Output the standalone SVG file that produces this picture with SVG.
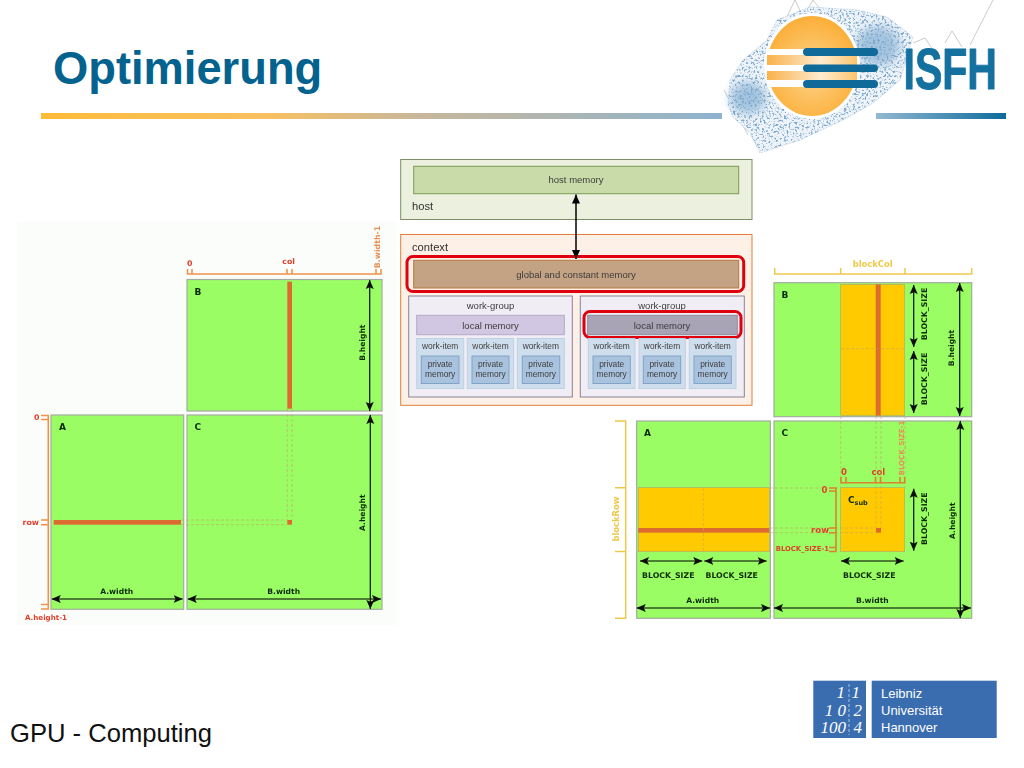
<svg xmlns="http://www.w3.org/2000/svg" width="1024" height="768" viewBox="0 0 1024 768">
<style>
text{font-family:"Liberation Sans",Arial,sans-serif}
.m{font-family:"DejaVu Sans",sans-serif;font-size:7.6px;font-weight:700;fill:#0f2a08}
.l{font-family:"DejaVu Sans",sans-serif;font-size:9px;font-weight:700;fill:#0f2a08}
.mid{text-anchor:middle}
.r{font-family:"DejaVu Sans",sans-serif;font-size:7.8px;font-weight:700;fill:#e0402c}
.o{font-family:"DejaVu Sans",sans-serif;font-size:7.8px;font-weight:700;fill:#e89058}
.y{font-family:"DejaVu Sans",sans-serif;font-size:8.4px;font-weight:700;fill:#eec94a}
.cell{fill:#99fd63;stroke:#a3aca0;stroke-width:1.2}
.gold{fill:#ffcb05;stroke:#a8a878;stroke-width:.6}
.bar{fill:#dd6b2d}
.arr{stroke:#0c0c0c;stroke-width:1.2;fill:none;marker-start:url(#ah);marker-end:url(#ah)}
.br{stroke:#f0924c;stroke-width:1.6;fill:none}
.bry{stroke:#eec94a;stroke-width:1.5;fill:none}
.dash{stroke:#c9a060;stroke-width:.7;fill:none;stroke-dasharray:3 2;opacity:.8}
.t{font-size:9.5px;fill:#3c3c3c;text-anchor:middle}
.ti{font-size:8.4px;fill:#3c3c3c;text-anchor:middle}
.wg{fill:#f1edf5;stroke:#8a8298;stroke-width:1}
.wi{fill:#cfdeed;stroke:#bdd0e4;stroke-width:1}
.pm{fill:#a9c3de;stroke:#82a2c8;stroke-width:1}
.hl{fill:none;stroke:#e0000f;stroke-width:3}
.lg{fill:#fff;font-size:13px}
.lb{fill:#fff;font-family:"Liberation Serif",serif;font-style:italic;font-size:17px;text-anchor:end}
.mt{stroke:#b4b4b4;stroke-width:.7;fill:none}
</style>
<defs>
<marker id="ah" viewBox="0 0 9 9" refX="9" refY="4.500" markerWidth="9" markerHeight="9" markerUnits="userSpaceOnUse" orient="auto-start-reverse"><path d="M0 0.5L9 4.500L0 8.500L1.800 4.500Z" fill="#0c0c0c"/></marker>
<marker id="ab" viewBox="0 0 9 9" refX="9" refY="4.500" markerWidth="9" markerHeight="9" markerUnits="userSpaceOnUse" orient="auto-start-reverse"><path d="M0 0.5L9 4.500L0 8.500Z" fill="#000"/></marker>
<linearGradient id="rule1"><stop offset="0" stop-color="#fdbb3a"/><stop offset=".33" stop-color="#f8c060"/><stop offset=".55" stop-color="#c9b79a"/><stop offset="1" stop-color="#8db3cf"/></linearGradient>
<linearGradient id="rule2"><stop offset="0" stop-color="#93b8d2"/><stop offset="1" stop-color="#0d6c9b"/></linearGradient>
<radialGradient id="sun" cx=".5" cy=".55" r=".6"><stop offset="0" stop-color="#fdd48c"/><stop offset="1" stop-color="#fbab30"/></radialGradient>
<linearGradient id="sunb"><stop offset="0" stop-color="#f9b24a"/><stop offset=".6" stop-color="#fdeccf"/><stop offset="1" stop-color="#fbc46c"/></linearGradient>
<filter id="sp" x="0" y="0" width="1" height="1"><feTurbulence type="fractalNoise" baseFrequency=".45" numOctaves="2" seed="4" result="n"/><feColorMatrix in="n" type="matrix" values="0 0 0 0 0 0 0 0 0 0 0 0 0 0 0 4 4 0 0 -4.100" result="a"/><feComposite in="SourceGraphic" in2="a" operator="in"/></filter>
<filter id="soft" x="-5%" y="-5%" width="110%" height="110%"><feGaussianBlur stdDeviation=".35"/></filter>
<filter id="bl" x="-30%" y="-30%" width="160%" height="160%"><feGaussianBlur stdDeviation="5"/></filter>
</defs>
<rect width="1024" height="768" fill="#fff"/>

<g id="header">
<text x="53" y="83.500" font-size="45.300" font-weight="700" fill="#04628f">Optimierung</text>
<rect x="41" y="113" width="681" height="6" fill="url(#rule1)"/>
<rect x="876" y="113" width="130" height="6" fill="url(#rule2)"/>
</g>

<g id="isfh-logo">
<path class="mt" d="M782 27L795 0L803 17L813 0L829 20M913 43L925 38L933 50M945 43L952 31L962 47M970 45L993 0M724 90L748 135"/>
<path d="M728 105L730 80L743 60L767 40L777 20L810 7L857 10L887 17L913 37L907 57L900 80L873 103L843 120L800 140L760 153L750 133L733 117Z" fill="#eef4f9" stroke="#b9cfe0" stroke-width=".7" stroke-dasharray="2 1"/>
<ellipse cx="748" cy="98" rx="18" ry="16" fill="#a5c4df" filter="url(#bl)"/>
<ellipse cx="878" cy="46" rx="22" ry="20" fill="#a5c4df" filter="url(#bl)"/>
<path d="M728 105L730 80L743 60L767 40L777 20L810 7L857 10L887 17L913 37L907 57L900 80L873 103L843 120L800 140L760 153L750 133L733 117Z" fill="#7fa9cc" filter="url(#sp)"/>
<ellipse cx="812" cy="66" rx="48" ry="53" fill="#fff"/>
<ellipse cx="812" cy="66" rx="45" ry="50" fill="url(#sun)"/>
<rect x="767" y="49" width="50" height="6" fill="#fff"/>
<rect x="767" y="55" width="90" height="10" fill="url(#sunb)"/>
<rect x="767" y="65" width="50" height="6" fill="#fff"/>
<rect x="767" y="71" width="90" height="9" fill="url(#sunb)"/>
<rect x="767" y="80" width="50" height="7" fill="#fff"/>
<rect x="803" y="48" width="75" height="8" rx="4" fill="#0f6a9a"/>
<rect x="803" y="64.500" width="75" height="7.500" rx="3.700" fill="#0f6a9a"/>
<rect x="803" y="80" width="75" height="8" rx="4" fill="#0f6a9a"/>
<text transform="translate(903.500 88.500) scale(.72 1)" font-size="57" font-weight="700" fill="#14719f" stroke="#14719f" stroke-width="1" stroke-linejoin="round">ISFH</text>
</g>

<g id="matrix-left" filter="url(#soft)">
<rect x="17" y="222" width="380" height="403" fill="#fbfdfb"/>
<g id="L-B"><rect class="cell" x="187" y="279.500" width="195" height="131.500"/><text class="l" x="194.500" y="294.500">B</text><rect class="bar" x="287.300" y="281.700" width="4.700" height="127"/></g>
<g id="L-A"><rect class="cell" x="51" y="415" width="132.700" height="194.300"/><text class="l" x="59" y="430">A</text><rect class="bar" x="53.700" y="520" width="127.300" height="4.700"/></g>
<g id="L-C"><rect class="cell" x="187" y="415" width="195" height="194.300"/><text class="l" x="194.500" y="430">C</text><rect class="bar" x="287.300" y="520" width="4.700" height="4.700"/></g>
<text class="m mid" x="116.700" y="594">A.width</text>
<text class="m mid" x="283.700" y="594">B.width</text>
<text class="m mid" transform="translate(364.500 342.700) rotate(-90)">B.height</text>
<text class="m mid" transform="translate(365 512.700) rotate(-90)">A.height</text>
<text class="r mid" x="189.700" y="266">0</text>
<text class="r mid" x="288.700" y="264">col</text>
<text class="o mid" transform="translate(379.700 247) rotate(-90)">B.width-1</text>
<text class="r" x="39.500" y="420" text-anchor="end">0</text>
<text class="r" x="39" y="524.700" text-anchor="end">row</text>
<text class="r" x="25" y="619.500" style="font-size:7.100px">A.height-1</text>
</g>

<g id="memory-model" filter="url(#soft)">
<g id="host"><rect x="400.700" y="159.500" width="351.300" height="60" fill="#ebf1de" stroke="#7d8f64" stroke-width="1"/><text x="412" y="210" font-size="11.200" fill="#303030">host</text></g>
<g id="host-memory"><rect x="413.700" y="166.300" width="325" height="27.400" fill="#c9dba8" stroke="#7d9a58" stroke-width="1"/><text class="t" x="576" y="183">host memory</text></g>
<g id="context"><rect x="400.700" y="234.500" width="351.300" height="170.800" fill="#fdf0e6" stroke="#e0803a" stroke-width="1"/><text x="412" y="251" font-size="11.200" fill="#303030">context</text></g>
<g id="global-memory"><rect x="413.700" y="260.300" width="325" height="27.700" fill="#c4a284" stroke="#b5793f" stroke-width="1"/><text class="t" x="576" y="277.500">global and constant memory</text><rect class="hl" x="407" y="256.500" width="336.700" height="35" rx="6"/></g>
<g id="work-group-1"><rect class="wg" x="408.700" y="296" width="163.600" height="101"/><text class="t" x="490.500" y="309">work-group</text></g>
<g id="local-memory-1"><rect x="416.700" y="315.300" width="147.600" height="19.400" fill="#d2c7e2" stroke="#b5a9ca" stroke-width="1"/><text class="t" x="490.500" y="328.500">local memory</text></g>
<g id="work-group-2"><rect class="wg" x="580.300" y="296" width="164" height="101"/><text class="t" x="662" y="309">work-group</text></g>
<g id="local-memory-2"><rect x="587.700" y="315.300" width="149.600" height="19.400" fill="#a9a3b6" stroke="#8f8a9c" stroke-width="1"/><text class="t" x="662" y="328.500">local memory</text><rect class="hl" x="584" y="311.500" width="157" height="26" rx="6"/></g>
<g id="wi1"><rect class="wi" x="416.700" y="338.500" width="47" height="50"/><text class="ti" x="440.200" y="349">work-item</text><rect class="pm" x="421.300" y="356" width="37.700" height="27.500"/><text class="ti" x="440.200" y="367">private</text><text class="ti" x="440.200" y="377">memory</text></g>
<g id="wi2"><rect class="wi" x="467.300" y="338.500" width="46.400" height="50"/><text class="ti" x="490.500" y="349">work-item</text><rect class="pm" x="472" y="356" width="37" height="27.500"/><text class="ti" x="490.500" y="367">private</text><text class="ti" x="490.500" y="377">memory</text></g>
<g id="wi3"><rect class="wi" x="517.300" y="338.500" width="47" height="50"/><text class="ti" x="540.800" y="349">work-item</text><rect class="pm" x="522.300" y="356" width="37.400" height="27.500"/><text class="ti" x="540.800" y="367">private</text><text class="ti" x="540.800" y="377">memory</text></g>
<g id="wi4"><rect class="wi" x="588.300" y="338.500" width="46.700" height="50"/><text class="ti" x="611.700" y="349">work-item</text><rect class="pm" x="593" y="356" width="37.300" height="27.500"/><text class="ti" x="611.700" y="367">private</text><text class="ti" x="611.700" y="377">memory</text></g>
<g id="wi5"><rect class="wi" x="639" y="338.500" width="46.300" height="50"/><text class="ti" x="662" y="349">work-item</text><rect class="pm" x="643.300" y="356" width="37.400" height="27.500"/><text class="ti" x="662" y="367">private</text><text class="ti" x="662" y="377">memory</text></g>
<g id="wi6"><rect class="wi" x="689.300" y="338.500" width="46.700" height="50"/><text class="ti" x="712.700" y="349">work-item</text><rect class="pm" x="694" y="356" width="37.300" height="27.500"/><text class="ti" x="712.700" y="367">private</text><text class="ti" x="712.700" y="377">memory</text></g>
</g>

<g id="matrix-right" filter="url(#soft)">
<g id="R-B"><rect class="cell" x="774" y="282.700" width="197.700" height="134"/><text class="l" x="781.500" y="298">B</text><rect class="gold" x="840.700" y="284.300" width="64" height="131.400"/><rect class="bar" x="875.700" y="284.300" width="5" height="131.400"/></g>
<g id="R-A"><rect class="cell" x="636.700" y="421" width="133.600" height="197.300"/><text class="l" x="644" y="435.700">A</text><rect class="gold" x="638.300" y="487.700" width="131" height="64"/><rect class="bar" x="638.300" y="528" width="131" height="4.700"/></g>
<g id="R-C"><rect class="cell" x="774" y="421" width="197.700" height="197.300"/><text class="l" x="781.500" y="435.700">C</text><rect class="gold" x="840.700" y="487.700" width="64" height="64"/><rect class="bar" x="876" y="528" width="5" height="4.700"/><text class="l" x="848" y="503">C<tspan dy="2" style="font-size:6.500px">sub</tspan></text></g>
<text class="y mid" x="872.700" y="267">blockCol</text>
<text class="y mid" transform="translate(619 519) rotate(-90)">blockRow</text>
<text class="m mid" transform="translate(927 314) rotate(-90)" style="font-size:7.800px">BLOCK_SIZE</text>
<text class="m mid" transform="translate(927 379) rotate(-90)" style="font-size:7.800px">BLOCK_SIZE</text>
<text class="m mid" transform="translate(926.700 518.700) rotate(-90)" style="font-size:7.800px">BLOCK_SIZE</text>
<text class="m mid" transform="translate(954 348) rotate(-90)">B.height</text>
<text class="m mid" transform="translate(955 520.700) rotate(-90)">A.height</text>
<text class="m mid" x="702.700" y="603">A.width</text>
<text class="m mid" x="872.300" y="603">B.width</text>
<text class="m mid" x="668.300" y="577.500" style="font-size:7.800px">BLOCK_SIZE</text>
<text class="m mid" x="731.700" y="577.500" style="font-size:7.800px">BLOCK_SIZE</text>
<text class="m mid" x="869.300" y="577.500" style="font-size:7.800px">BLOCK_SIZE</text>
<text class="r mid" x="844" y="474.700" style="font-size:8.500px">0</text>
<text class="r mid" x="878.300" y="474.700" style="font-size:8.500px">col</text>
<text class="o mid" style="font-size:7px" transform="translate(904 448) rotate(-90)">BLOCK_SIZE-1</text>
<text class="r" x="827.500" y="492.700" text-anchor="end" style="font-size:8.500px">0</text>
<text class="r" x="829" y="533.300" text-anchor="end" style="font-size:8.500px">row</text>
<text class="r" x="829" y="551" text-anchor="end" style="font-size:6.800px">BLOCK_SIZE-1</text>
</g>

<g id="connectors" filter="url(#soft)">
<path d="M576 194.500V259" stroke="#000" stroke-width="1.500" fill="none" marker-start="url(#ab)" marker-end="url(#ab)"/>
<path class="dash" d="M287.300 409V520M292 409V520M181 520H287M181 524.700H287"/>
<path class="br" d="M187.500 269V274H381V269M192 269V274M287 269V274M292 269V274M376 269V274"/>
<path class="br" d="M41 415.500H48.300V609H41M41 419.500H48.300M41 520H48.300M41 524.700H48.300M41 604.500H48.300"/>
<path class="arr" d="M51.700 599H182.700"/>
<path class="arr" d="M187.700 599H381"/>
<path class="arr" d="M369.700 280V411"/>
<path class="arr" d="M370.300 415V609"/>
<path class="bry" d="M774.700 268V274H971.700V268M840.700 268V274M905 268V274"/>
<path class="bry" d="M615 421H625.700V618.300H615M615 487.700H625.700M615 551.500H625.700"/>
<path class="dash" d="M840.700 416V487M905 416V487M876 416V528M881 416V528M770 488H840M770 528H876M770 532.700H876M703.300 488V551.500M841 348.700H905"/>
<path class="br" style="stroke:#e08030" d="M841 477V482.700H904.700V477M846 477V482.700M875.500 477V482.700M880.500 477V482.700M900 477V482.700"/>
<path class="br" style="stroke:#e08030" d="M829 488H836V551.500H829M829 491H836M829 528H836M829 532.700H836M829 547.500H836"/>
<path class="arr" d="M913.700 285V347"/>
<path class="arr" d="M913.700 351V413"/>
<path class="arr" d="M913.700 488.700V550.700"/>
<path class="arr" d="M959.700 283V416"/>
<path class="arr" d="M960.300 421V618"/>
<path class="arr" d="M636.700 608H770"/>
<path class="arr" d="M774 608H971"/>
<path class="arr" d="M640 561H702.300"/>
<path class="arr" d="M704.300 561H766.700"/>
<path class="arr" d="M841 561H903.700"/>
</g>

<g id="luh-logo">
<rect x="813.300" y="680.700" width="52.700" height="57.300" fill="#3a6cb0"/>
<rect x="871.700" y="680.700" width="125" height="57.300" fill="#3a6cb0"/>
<path d="M849 684V735" stroke="#a8c8ea" stroke-width="1" stroke-dasharray="3 2" fill="none"/>
<text class="lb" x="845" y="698">1</text><text class="lb" x="860" y="698">1</text>
<text class="lb" x="846" y="716">1 0</text><text class="lb" x="862" y="716">2</text>
<text class="lb" x="846" y="733">100</text><text class="lb" x="862" y="733">4</text>
<text class="lg" x="881" y="697.500">Leibniz</text>
<text class="lg" x="881" y="714.500">Universität</text>
<text class="lg" x="881" y="731.500">Hannover</text>
</g>

<g id="footer"><text x="10" y="742" font-size="25.600" fill="#111">GPU - Computing</text></g>
</svg>
